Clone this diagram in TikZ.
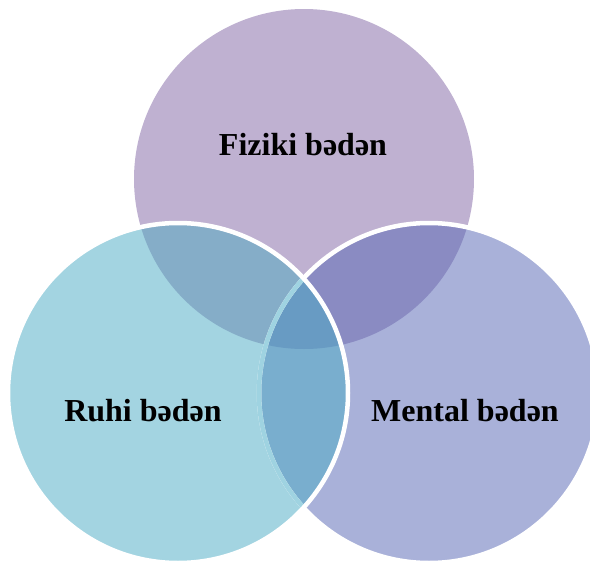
\documentclass[tikz,border=0pt]{standalone}
\usepackage{fontspec}
\setmainfont{Liberation Serif}
\begin{document}
\begin{tikzpicture}[x=1pt,y=-1pt]
  % region colours
  \definecolor{cT}{HTML}{BFB1D1}
  \definecolor{cL}{HTML}{A3D4E1}
  \definecolor{cR}{HTML}{A9B1D9}
  \definecolor{cTL}{HTML}{85ADC8}
  \definecolor{cTR}{HTML}{8A8BC2}
  \definecolor{cLR}{HTML}{79AECE}
  \definecolor{cTLR}{HTML}{689BC3}
  \definecolor{cEdge}{HTML}{9FD3E1}
  \tikzset{
    ring/.style={draw=white, line width=4.5pt},
    lbl/.style={font=\bfseries\fontsize{32}{38}\selectfont, text=black, inner sep=0pt, anchor=base}
  }
  \useasboundingbox (0,0) rectangle (590,563);
  \coordinate (T) at (304,179);
  \coordinate (L) at (178,393);
  \coordinate (R) at (429,393);
  \def\rad{170pt}
  % single circles
  \fill[cT] (T) circle[radius=\rad];
  \fill[cR] (R) circle[radius=\rad];
  \fill[cL] (L) circle[radius=\rad];
  % pairwise overlaps
  \begin{scope}
    \clip (T) circle[radius=\rad];
    \fill[cTL] (L) circle[radius=\rad];
    \fill[cTR] (R) circle[radius=\rad];
  \end{scope}
  \begin{scope}
    \clip (L) circle[radius=\rad];
    \fill[cLR] (R) circle[radius=\rad];
    \clip (R) circle[radius=\rad];
    \fill[cTLR] (T) circle[radius=\rad];
  \end{scope}
  % outlines: the left circle lies on top
  \draw[ring] (R) circle[radius=\rad];
  \begin{scope}
    \clip (L) circle[radius=\rad];
    \draw[ring, draw=cEdge] (R) circle[radius=\rad];
  \end{scope}
  \draw[ring] (L) circle[radius=\rad];
  % labels
  \node[lbl] (fiz) at (303,155) {Fiziki bədən};
  \node[lbl] (ruh) at (143,421) {Ruhi bədən};
  \node[lbl] (men) at (465,421) {Mental bədən};
\end{tikzpicture}
\end{document}
